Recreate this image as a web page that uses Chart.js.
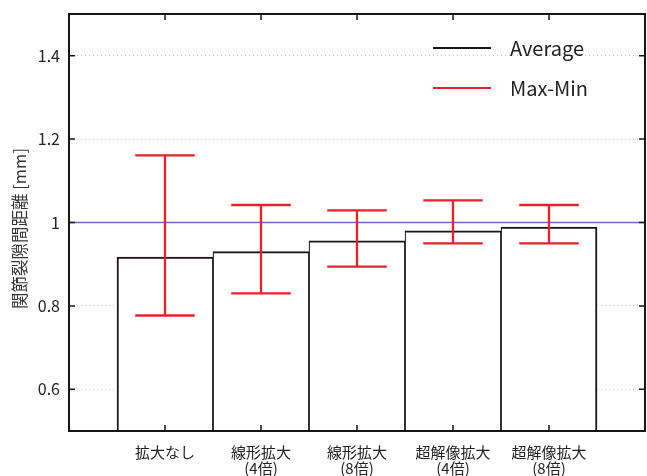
<!DOCTYPE html>
<html><head><meta charset="utf-8">
<script src="https://cdn.jsdelivr.net/npm/chart.js@4"></script>
<style>html,body{margin:0;padding:0;background:#fff}#wrap{width:647px;height:476px;position:relative}</style>
</head><body><div id="wrap"><canvas id="c"></canvas></div>
<script>
const categories = [['拡大なし'], ['線形拡大','(4倍)'], ['線形拡大','(8倍)'], ['超解像拡大','(4倍)'], ['超解像拡大','(8倍)']];
const positions = [1, 2, 3, 4, 5];
const averages = [0.917, 0.930, 0.956, 0.980, 0.989];
const maxValues = [1.161, 1.042, 1.029, 1.053, 1.042];
const minValues = [0.777, 0.830, 0.894, 0.950, 0.950];
const yTicks = [0.6, 0.8, 1.0, 1.2, 1.4];
const referenceValue = 1.0;
const yTitle = '関節裂隙間距離 [mm]';
const legendLabels = ['Average', 'Max-Min'];

const FONT = "'Noto Sans CJK JP', 'Noto Sans', sans-serif";
const RED = '#e8222c';
const BLACK = '#1a1414';
const BLUE = '#6b6bbf';

const overlay = {
  id: 'overlay',
  beforeDatasetsDraw(chart) {
    const {ctx, chartArea: a, scales: {y}} = chart;
    const py = y.getPixelForValue(referenceValue);
    ctx.save();
    ctx.strokeStyle = BLUE; ctx.lineWidth = 1.5;
    ctx.beginPath(); ctx.moveTo(a.left, py); ctx.lineTo(a.right, py); ctx.stroke();
    ctx.restore();
  },
  afterDatasetsDraw(chart) {
    const {ctx, chartArea: a, scales: {x, y}} = chart;
    ctx.save();
    // error bars
    ctx.strokeStyle = RED; ctx.lineWidth = 2.3;
    const capHalf = (x.getPixelForValue(1.31) - x.getPixelForValue(1));
    positions.forEach((p, i) => {
      const px = x.getPixelForValue(p);
      const pMax = y.getPixelForValue(maxValues[i]);
      const pMin = y.getPixelForValue(minValues[i]);
      ctx.beginPath();
      ctx.moveTo(px, pMax); ctx.lineTo(px, pMin);
      ctx.moveTo(px - capHalf, pMax); ctx.lineTo(px + capHalf, pMax);
      ctx.moveTo(px - capHalf, pMin); ctx.lineTo(px + capHalf, pMin);
      ctx.stroke();
    });
    // inward ticks
    ctx.strokeStyle = BLACK; ctx.lineWidth = 1.5;
    ctx.beginPath();
    yTicks.forEach(v => {
      const py = y.getPixelForValue(v);
      ctx.moveTo(a.left, py); ctx.lineTo(a.left + 6, py);
      ctx.moveTo(a.right, py); ctx.lineTo(a.right - 6, py);
    });
    positions.forEach(p => {
      const px = x.getPixelForValue(p);
      ctx.moveTo(px, a.bottom); ctx.lineTo(px, a.bottom - 6);
      ctx.moveTo(px, a.top); ctx.lineTo(px, a.top + 6);
    });
    ctx.stroke();
    // frame
    ctx.strokeStyle = BLACK; ctx.lineWidth = 2;
    ctx.strokeRect(a.left, a.top, a.right - a.left, a.bottom - a.top);
    // legend
    const colors = [BLACK, RED];
    ctx.font = '20px ' + FONT;
    ctx.textBaseline = 'middle';
    ctx.fillStyle = '#222';
    legendLabels.forEach((lab, i) => {
      const ly = a.top + 34 + i * 40;
      ctx.strokeStyle = colors[i]; ctx.lineWidth = 2;
      ctx.beginPath(); ctx.moveTo(a.left + 364, ly); ctx.lineTo(a.left + 422, ly); ctx.stroke();
      ctx.fillText(lab, a.left + 441, ly);
    });
    // y axis title
    ctx.translate(20, (a.top + a.bottom) / 2 + 6);
    ctx.rotate(-Math.PI / 2);
    ctx.font = '16.5px ' + FONT;
    ctx.fillStyle = '#333';
    ctx.textAlign = 'center';
    ctx.textBaseline = 'middle';
    ctx.fillText(yTitle, 0, 0);
    ctx.restore();
  }
};

new Chart(document.getElementById('c'), {
  type: 'bar',
  data: {
    datasets: [{
      label: legendLabels[0],
      data: positions.map((p, i) => ({x: p, y: averages[i]})),
      backgroundColor: '#ffffff',
      borderColor: BLACK,
      borderWidth: (c) => ({
        left: c.dataIndex === 0 ? 2 : 1.2,
        right: c.dataIndex === positions.length - 1 ? 2 : 1.2,
        top: 2, bottom: 0
      }),
      borderSkipped: 'start',
      barPercentage: 1,
      categoryPercentage: 1
    }]
  },
  options: {
    responsive: true,
    maintainAspectRatio: false,
    animation: false,
    devicePixelRatio: 1,
    layout: {padding: {top: 14, right: 2, left: 0, bottom: 0}},
    plugins: {legend: {display: false}, tooltip: {enabled: false}},
    scales: {
      x: {
        type: 'linear', min: 0, max: 6, offset: false,
        afterBuildTicks: (s) => { s.ticks = positions.map(v => ({value: v})); },
        afterFit: (s) => { s.height = 45; s.paddingLeft = 0; s.paddingRight = 0; },
        grid: {display: false, offset: false},
        border: {display: false},
        ticks: {
          autoSkip: false, maxRotation: 0, padding: 5,
          color: '#222',
          font: {family: FONT, size: 15, lineHeight: 1.07},
          callback: (v) => categories[v - 1] || ''
        }
      },
      y: {
        min: 0.5, max: 1.5,
        afterBuildTicks: (s) => { s.ticks = yTicks.map(v => ({value: v})); },
        afterFit: (s) => { s.width = 69; s.paddingTop = 0; s.paddingBottom = 0; },
        grid: {color: '#c4c4c4', lineWidth: 1, drawTicks: false},
        border: {display: false, dash: [1, 3]},
        ticks: {
          padding: 9, color: '#222',
          font: {family: FONT, size: 16},
          callback: (v) => String(Math.round(v * 10) / 10)
        },
        title: {display: false}
      }
    }
  },
  plugins: [overlay]
});
</script>
</body></html>
